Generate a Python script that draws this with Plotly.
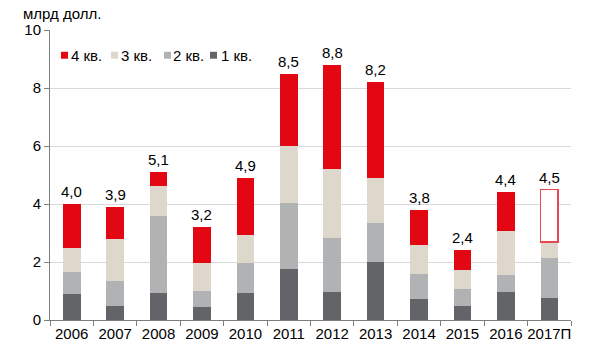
import plotly.graph_objects as go

years = ["2006", "2007", "2008", "2009", "2010", "2011", "2012", "2013", "2014", "2015", "2016", "2017П"]
q1 = [0.88, 0.48, 0.94, 0.45, 0.93, 1.77, 0.97, 2.00, 0.72, 0.49, 0.98, 0.77]
q2 = [0.79, 0.87, 2.63, 0.54, 1.05, 2.26, 1.86, 1.33, 0.87, 0.57, 0.57, 1.38]
q3 = [0.82, 1.43, 1.06, 0.99, 0.95, 1.97, 2.39, 1.56, 1.01, 0.66, 1.52, 0.54]
q4 = [1.51, 1.12, 0.47, 1.22, 1.97, 2.50, 3.58, 3.31, 1.20, 0.68, 1.33, 1.81]
totals = ["4,0", "3,9", "5,1", "3,2", "4,9", "8,5", "8,8", "8,2", "3,8", "2,4", "4,4", "4,5"]
yticks = [0, 2, 4, 6, 8, 10]
series_names = ["1 кв.", "2 кв.", "3 кв.", "4 кв."]

RED = "#E30613"
BEIGE = "#DDD8CB"
GRAY = "#B1B2B4"
DARK = "#636467"
FONT = "Liberation Sans, Arial, sans-serif"
colors = [DARK, GRAY, BEIGE, RED]

W, H = 600, 354
ML, MR, MT, MB = 50, 29, 30, 31
PW, PH = W - ML - MR, H - MT - MB


def px_x(px):
    return (px - ML) / PW


def px_y(py):
    return (H - MB - py) / PH


fig = go.Figure()
for vals, nm, col in zip([q1, q2, q3], series_names[:3], colors[:3]):
    fig.add_trace(go.Bar(x=years, y=vals, name=nm, marker=dict(color=col, line=dict(width=0))))
q4_colors = [RED] * (len(years) - 1) + ["#FFFFFF"]
q4_lw = [0] * (len(years) - 1) + [1.2]
fig.add_trace(go.Bar(x=years, y=q4, name=series_names[3],
                     marker=dict(color=q4_colors, line=dict(color="#E8474F", width=q4_lw))))

for i, (a, b, c, d, t) in enumerate(zip(q1, q2, q3, q4, totals)):
    fig.add_annotation(x=i, y=a + b + c + d, text=t, showarrow=False,
                       yanchor="bottom", yshift=2,
                       font=dict(family=FONT, size=15, color="#000000"))

fig.add_annotation(xref="paper", yref="paper", x=px_x(21), y=px_y(13), xanchor="left", yanchor="middle",
                   text="млрд долл.", showarrow=False,
                   font=dict(family=FONT, size=15, color="#000000"))

# legend (4 кв. first), drawn as swatches + text
leg_sq_x = [61, 111, 164, 210]
leg_tx_x = [69, 119, 171, 219]
for k, (sx, tx) in enumerate(zip(leg_sq_x, leg_tx_x)):
    idx = 3 - k
    fig.add_shape(type="rect", xref="paper", yref="paper",
                  x0=px_x(sx), x1=px_x(sx + 7), y0=px_y(59), y1=px_y(52),
                  fillcolor=colors[idx], line=dict(width=0))
    fig.add_annotation(xref="paper", yref="paper", x=px_x(tx), y=px_y(55.5),
                       xanchor="left", yanchor="middle", text=series_names[idx], showarrow=False,
                       font=dict(family=FONT, size=15, color="#000000"))

fig.update_layout(
    width=W, height=H,
    margin=dict(l=ML, r=MR, t=MT, b=MB),
    barmode="stack",
    bargap=0.595,
    plot_bgcolor="white",
    paper_bgcolor="white",
    font=dict(family=FONT, size=15, color="#000000"),
    showlegend=False,
    xaxis=dict(type="category", categoryorder="array", categoryarray=years,
               range=[-0.5, len(years) - 0.5], autorange=False,
               showline=True, linecolor="#7F7F7F", linewidth=1,
               ticks="outside", tickson="boundaries", ticklen=5, tickcolor="#7F7F7F",
               tickangle=0, tickfont=dict(family=FONT, size=15), showgrid=False),
    yaxis=dict(range=[0, 10], tickvals=yticks, showline=True, linecolor="#7F7F7F", linewidth=1,
               ticks="outside", ticklen=5, tickcolor="#7F7F7F",
               gridcolor="#D9D9D9", gridwidth=1, zeroline=False,
               tickfont=dict(family=FONT, size=15)),
)

fig.write_html("out.html")
